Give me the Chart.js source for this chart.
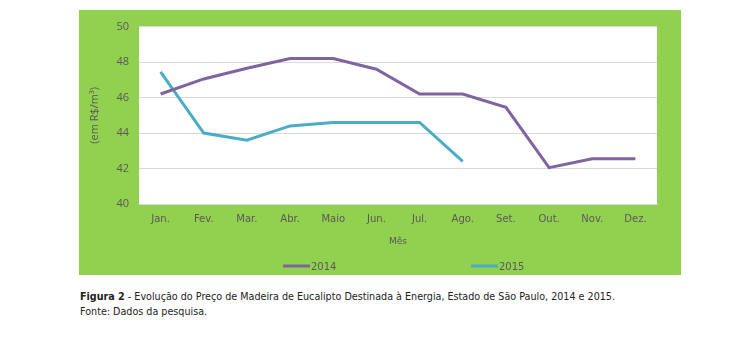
<!DOCTYPE html>
<html><head><meta charset="utf-8">
<script src="https://cdn.jsdelivr.net/npm/chart.js@4.4.0/dist/chart.umd.min.js"></script>
<style>
html,body{margin:0;padding:0;background:#fff;width:739px;height:339px;overflow:hidden}
#panel{position:absolute;left:79px;top:10px;width:602px;height:265px;background:#92d050}
#caption{position:absolute;left:80px;top:289px;font-family:"DejaVu Sans",sans-serif;font-size:9.6px;color:#222;line-height:15px;white-space:nowrap}
</style></head>
<body>
<div id="panel"><canvas id="c"></canvas></div>
<div id="caption"><b>Figura 2</b> - Evolução do Preço de Madeira de Eucalipto Destinada à Energia, Estado de São Paulo, 2014 e 2015.<br>Fonte: Dados da pesquisa.</div>
<script>
const months = ["Jan.","Fev.","Mar.","Abr.","Maio","Jun.","Jul.","Ago.","Set.","Out.","Nov.","Dez."];
const series2014 = [46.2,47.05,47.65,48.2,48.2,47.6,46.2,46.2,45.45,42.05,42.55,42.55];
const series2015 = [47.45,44.0,43.6,44.4,44.6,44.6,44.6,42.4,null,null,null,null];
const seriesNames = ["2014","2015"];
const yTicks = [40,42,44,46,48,50];

const plotBg = {
  id:'plotBg',
  beforeDraw(chart){
    const {ctx, chartArea:a} = chart;
    ctx.save(); ctx.fillStyle='#ffffff';
    ctx.fillRect(a.left,a.top,a.right-a.left,a.bottom-a.top);
    ctx.restore();
  }
};
const customLegend = {
  id:'customLegend',
  afterDraw(chart){
    const {ctx} = chart;
    const y = 256;
    const starts = [204, 392];
    ctx.save();
    ctx.font = '10px "DejaVu Sans", sans-serif';
    ctx.textBaseline='middle';
    chart.data.datasets.forEach((ds,i)=>{
      const x = starts[i];
      ctx.strokeStyle = ds.borderColor; ctx.lineWidth = 3;
      ctx.beginPath(); ctx.moveTo(x,y); ctx.lineTo(x+27,y); ctx.stroke();
      ctx.fillStyle = '#595959';
      ctx.fillText(ds.label, x+28, y+1);
    });
    ctx.restore();
  }
};

new Chart(document.getElementById('c'), {
  type:'line',
  data:{
    labels: months,
    datasets:[
      {label:seriesNames[0], data:series2014, borderColor:'#8064a2', borderWidth:3, pointRadius:0, tension:0, spanGaps:false},
      {label:seriesNames[1], data:series2015, borderColor:'#4bacc6', borderWidth:3, pointRadius:0, tension:0, spanGaps:false}
    ]
  },
  options:{
    responsive:true, maintainAspectRatio:false, animation:false,
    layout:{padding:{left:0,right:24,top:14,bottom:28}},
    plugins:{legend:{display:false}, tooltip:{enabled:false}},
    scales:{
      x:{
        offset:true,
        grid:{display:false, drawTicks:false},
        border:{display:true, color:'#d9d9d9'},
        ticks:{color:'#595959', font:{family:'"DejaVu Sans", sans-serif', size:10}, padding:9, maxRotation:0},
        title:{display:true, text:'Mês', color:'#595959', font:{family:'"DejaVu Sans", sans-serif', size:9}, padding:{top:6,bottom:0}},
        afterFit(s){ s.height = 43; }
      },
      y:{
        min:40, max:50,
        afterBuildTicks(s){ s.ticks = yTicks.map(v=>({value:v})); },
        grid:{color:'#d9d9d9', lineWidth:1, drawTicks:false},
        border:{display:false},
        ticks:{color:'#595959', font:{family:'"Open Sans", sans-serif', size:11}, padding:10},
        title:{display:true, text:'(em R$/m³)', color:'#595959', font:{family:'"Open Sans", sans-serif', size:11}, padding:{top:9,bottom:0}},
        afterFit(s){ s.width = 60; }
      }
    }
  },
  plugins:[plotBg, customLegend]
});
</script>
</body></html>
